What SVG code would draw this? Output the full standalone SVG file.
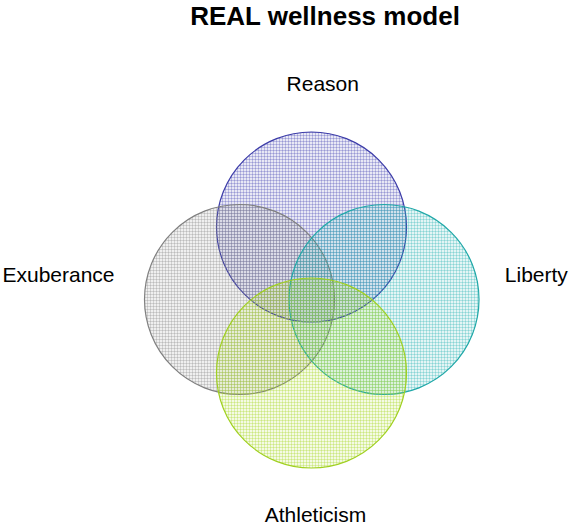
<svg xmlns="http://www.w3.org/2000/svg" width="569" height="525" viewBox="0 0 569 525">
<style>
text{font-family:"Liberation Sans",Arial,sans-serif;fill:#000}
.t{font-size:26px;font-weight:bold;text-anchor:middle}
.l{font-size:21px;text-anchor:middle}
.c{stroke-width:1.2}
</style>
<defs>
<pattern id="pR" width="3" height="3" patternUnits="userSpaceOnUse"><rect width="3" height="3" fill="#4040b0" fill-opacity="0.12"/><path d="M0 0.5H3M0.5 0V3" stroke="#4040b0" stroke-opacity="0.27" stroke-width="1"/></pattern>
<pattern id="pE" width="3" height="3" patternUnits="userSpaceOnUse"><rect width="3" height="3" fill="#808080" fill-opacity="0.12"/><path d="M0 0.5H3M0.5 0V3" stroke="#808080" stroke-opacity="0.27" stroke-width="1"/></pattern>
<pattern id="pL" width="3" height="3" patternUnits="userSpaceOnUse"><rect width="3" height="3" fill="#20b0b0" fill-opacity="0.12"/><path d="M0 0.5H3M0.5 0V3" stroke="#20b0b0" stroke-opacity="0.27" stroke-width="1"/></pattern>
<pattern id="pA" width="3" height="3" patternUnits="userSpaceOnUse"><rect width="3" height="3" fill="#a8d820" fill-opacity="0.12"/><path d="M0 0.5H3M0.5 0V3" stroke="#a8d820" stroke-opacity="0.3" stroke-width="1"/></pattern>
</defs>
<rect width="569" height="525" fill="#fff"/>
<text class="t" x="325" y="25">REAL wellness model</text>
<g id="reason"><circle class="c" cx="311.5" cy="227" r="95" fill="url(#pR)" stroke="#3c3ca8"/><text class="l" x="322.8" y="90.5">Reason</text></g>
<g id="exuberance"><circle class="c" cx="239.5" cy="299.5" r="95" fill="url(#pE)" stroke="#808080"/><text class="l" x="58.5" y="281.7">Exuberance</text></g>
<g id="liberty"><circle class="c" cx="384" cy="299.5" r="95" fill="url(#pL)" stroke="#20a8a8"/><text class="l" x="536.3" y="281.7">Liberty</text></g>
<g id="athleticism"><circle class="c" cx="311.5" cy="373" r="95" fill="url(#pA)" stroke="#a0d020"/><text class="l" x="315.5" y="522">Athleticism</text></g>
<g id="connectors"/>
</svg>
